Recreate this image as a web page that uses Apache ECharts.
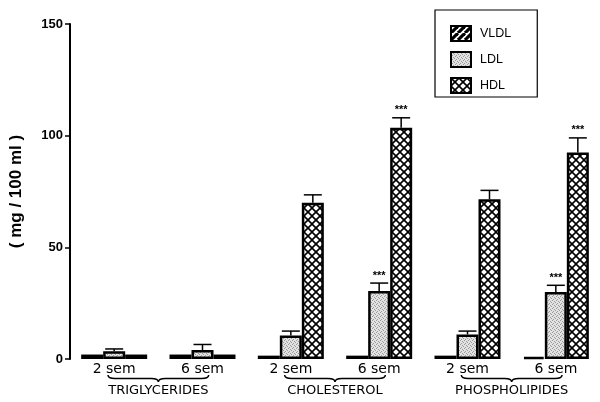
<!DOCTYPE html>
<html>
<head>
<meta charset="utf-8">
<script src="https://cdn.jsdelivr.net/npm/echarts@6/dist/echarts.min.js"></script>
<style>
html,body{margin:0;padding:0;background:#fff;}
#c{width:600px;height:402px;}
</style>
</head>
<body>
<div id="c"></div>
<script>
// ---- data ----
const groups = ['TRIGLYCERIDES', 'CHOLESTEROL', 'PHOSPHOLIPIDES'];
const categories = ['2 sem', '6 sem', '2 sem', '6 sem', '2 sem', '6 sem'];
const vldl = [2, 2, 1.5, 1.5, 1.5, 1.0];
const ldl = [3.5, 4, 10.5, 30.5, 11, 30];
const hdl = [2, 2, 70, 103.5, 71.5, 92.5];
const ldlErr = [1, 2.5, 2, 3.5, 1.5, 3];
const hdlErr = [0, 0, 3.5, 4.5, 4, 6.5];
const ldlStars = ['', '', '', '***', '', '***'];
const hdlStars = ['', '', '', '***', '', '***'];
const yTicks = [0, 50, 100, 150];

// ---- patterns ----
function makeCanvas(w, h, draw) {
  const c = document.createElement('canvas');
  c.width = w; c.height = h;
  const ctx = c.getContext('2d');
  draw(ctx, w, h);
  return c;
}
const stripe = makeCanvas(7, 7, (ctx, w, h) => {
  ctx.fillStyle = '#fff'; ctx.fillRect(0, 0, w, h);
  ctx.strokeStyle = '#000'; ctx.lineWidth = 3.2;
  for (const k of [-w, 0, w]) {
    ctx.beginPath(); ctx.moveTo(k, h); ctx.lineTo(k + w, 0); ctx.stroke();
  }
});
const cross = makeCanvas(8, 8, (ctx, w, h) => {
  ctx.fillStyle = '#fff'; ctx.fillRect(0, 0, w, h);
  ctx.strokeStyle = '#000'; ctx.lineWidth = 1.6;
  ctx.beginPath(); ctx.moveTo(0, 0); ctx.lineTo(w, h); ctx.stroke();
  ctx.beginPath(); ctx.moveTo(w, 0); ctx.lineTo(0, h); ctx.stroke();
});
const stipple = makeCanvas(4, 4, (ctx, w, h) => {
  ctx.fillStyle = '#e2e2e2'; ctx.fillRect(0, 0, w, h);
  ctx.fillStyle = '#9a9a9a';
  [[0, 0], [2, 1], [1, 3], [3, 2]].forEach(p => ctx.fillRect(p[0], p[1], 1, 1));
});

const BW = 22;
function errSeries(vals, errs, stars, offset) {
  return {
    type: 'custom',
    clip: false,
    z: 10,
    encode: { x: 0, y: 1 },
    data: vals.map((v, i) => [i, v, errs[i]]),
    renderItem: function (params, api) {
      const i = api.value(0), v = api.value(1), e = api.value(2);
      if (!e) return null;
      const b = api.coord([i, v]);
      const t = api.coord([i, v + e]);
      const x = b[0] + offset;
      const st = { stroke: '#000', lineWidth: 1.5 };
      const children = [
        { type: 'line', shape: { x1: x, y1: b[1], x2: x, y2: t[1] }, style: st },
        { type: 'line', shape: { x1: x - 9, y1: t[1], x2: x + 9, y2: t[1] }, style: st }
      ];
      const s = stars[params.dataIndex];
      if (s) {
        children.push({
          type: 'text',
          style: { text: s, x: x, y: t[1] - 2, align: 'center', verticalAlign: 'bottom',
                   font: 'bold 11px "Liberation Sans", Arial, sans-serif', fill: '#000' }
        });
      }
      return { type: 'group', children: children };
    }
  };
}

const chart = echarts.init(document.getElementById('c'), null, { renderer: 'canvas' });
chart.setOption({
  backgroundColor: '#fff',
  animation: false,
  grid: { left: 64, right: -14, top: 24, bottom: 43 },
  legend: {
    data: ['VLDL', 'LDL', 'HDL'],
    icon: 'rect',
    orient: 'vertical',
    left: 435, top: 10,
    itemWidth: 20, itemHeight: 15, itemGap: 9,
    padding: [15, 26, 3, 15],
    borderColor: '#000', borderWidth: 1.2,
    textStyle: { fontSize: 12.5, color: '#000', fontFamily: '"Liberation Sans", Arial, sans-serif', padding: [0, 0, 0, 4] },
    selectedMode: false
  },
  xAxis: {
    type: 'category',
    data: categories,
    axisLine: { show: false },
    axisTick: { show: false },
    axisLabel: { margin: 3, fontSize: 14, color: '#000', fontFamily: '"DejaVu Sans", sans-serif' }
  },
  yAxis: {
    type: 'value',
    min: 0, max: 150, interval: 50,
    name: '( mg / 100 ml )',
    nameLocation: 'middle',
    nameGap: 45,
    nameRotate: 90,
    nameTextStyle: { fontSize: 17, fontWeight: 'bold', color: '#000', fontFamily: '"Liberation Sans", Arial, sans-serif' },
    axisLine: { show: true, lineStyle: { color: '#000', width: 2 } },
    axisTick: { show: true, length: 5, lineStyle: { color: '#000', width: 1.5 } },
    splitLine: { show: false },
    axisLabel: {
      margin: 7, fontSize: 13, fontWeight: 'bold', color: '#000',
      fontFamily: '"Liberation Sans", Arial, sans-serif',
      formatter: v => (yTicks.indexOf(v) >= 0 ? String(v) : '')
    }
  },
  series: [
    { name: 'VLDL', type: 'bar', data: vldl, barWidth: BW, barGap: '0%',
      itemStyle: { color: { image: stripe, repeat: 'repeat' }, borderColor: '#000', borderWidth: 2.5 } },
    { name: 'LDL', type: 'bar', data: ldl, barWidth: BW, barGap: '0%',
      itemStyle: { color: { image: stipple, repeat: 'repeat' }, borderColor: '#000', borderWidth: 2.5 } },
    { name: 'HDL', type: 'bar', data: hdl, barWidth: BW, barGap: '0%',
      itemStyle: { color: { image: cross, repeat: 'repeat' }, borderColor: '#000', borderWidth: 2.5 } },
    errSeries(ldl, ldlErr, ldlStars, 0),
    errSeries(hdl, hdlErr, hdlStars, BW),
    {
      type: 'custom',
      clip: false,
      encode: { x: 0, y: 1 },
      data: groups.map((g, k) => [2 * k, 0]),
      renderItem: function (params, api) {
        const p = api.coord([api.value(0), 0]);
        const band = api.size([1, 0])[0];
        const cx = p[0] + band / 2;
        const hw = band * 0.57;
        const y0 = p[1] + 16, ym = y0 + 3.5, y1 = y0 + 7, r = 7;
        const x0 = cx - hw, x1 = cx + hw;
        const d = 'M' + x0 + ',' + y0 + ' Q' + x0 + ',' + ym + ' ' + (x0 + r) + ',' + ym +
          ' L' + (cx - r) + ',' + ym + ' Q' + cx + ',' + ym + ' ' + cx + ',' + y1 +
          ' Q' + cx + ',' + ym + ' ' + (cx + r) + ',' + ym +
          ' L' + (x1 - r) + ',' + ym + ' Q' + x1 + ',' + ym + ' ' + x1 + ',' + y0;
        return {
          type: 'group',
          children: [
            { type: 'path', shape: { pathData: d }, style: { stroke: '#000', lineWidth: 1.5, fill: null } },
            { type: 'text', style: { text: groups[params.dataIndex], x: cx, y: p[1] + 32, align: 'center', verticalAlign: 'middle',
              font: '13px "DejaVu Sans", sans-serif', fill: '#000' } }
          ]
        };
      }
    }
  ]
});
</script>
</body>
</html>
